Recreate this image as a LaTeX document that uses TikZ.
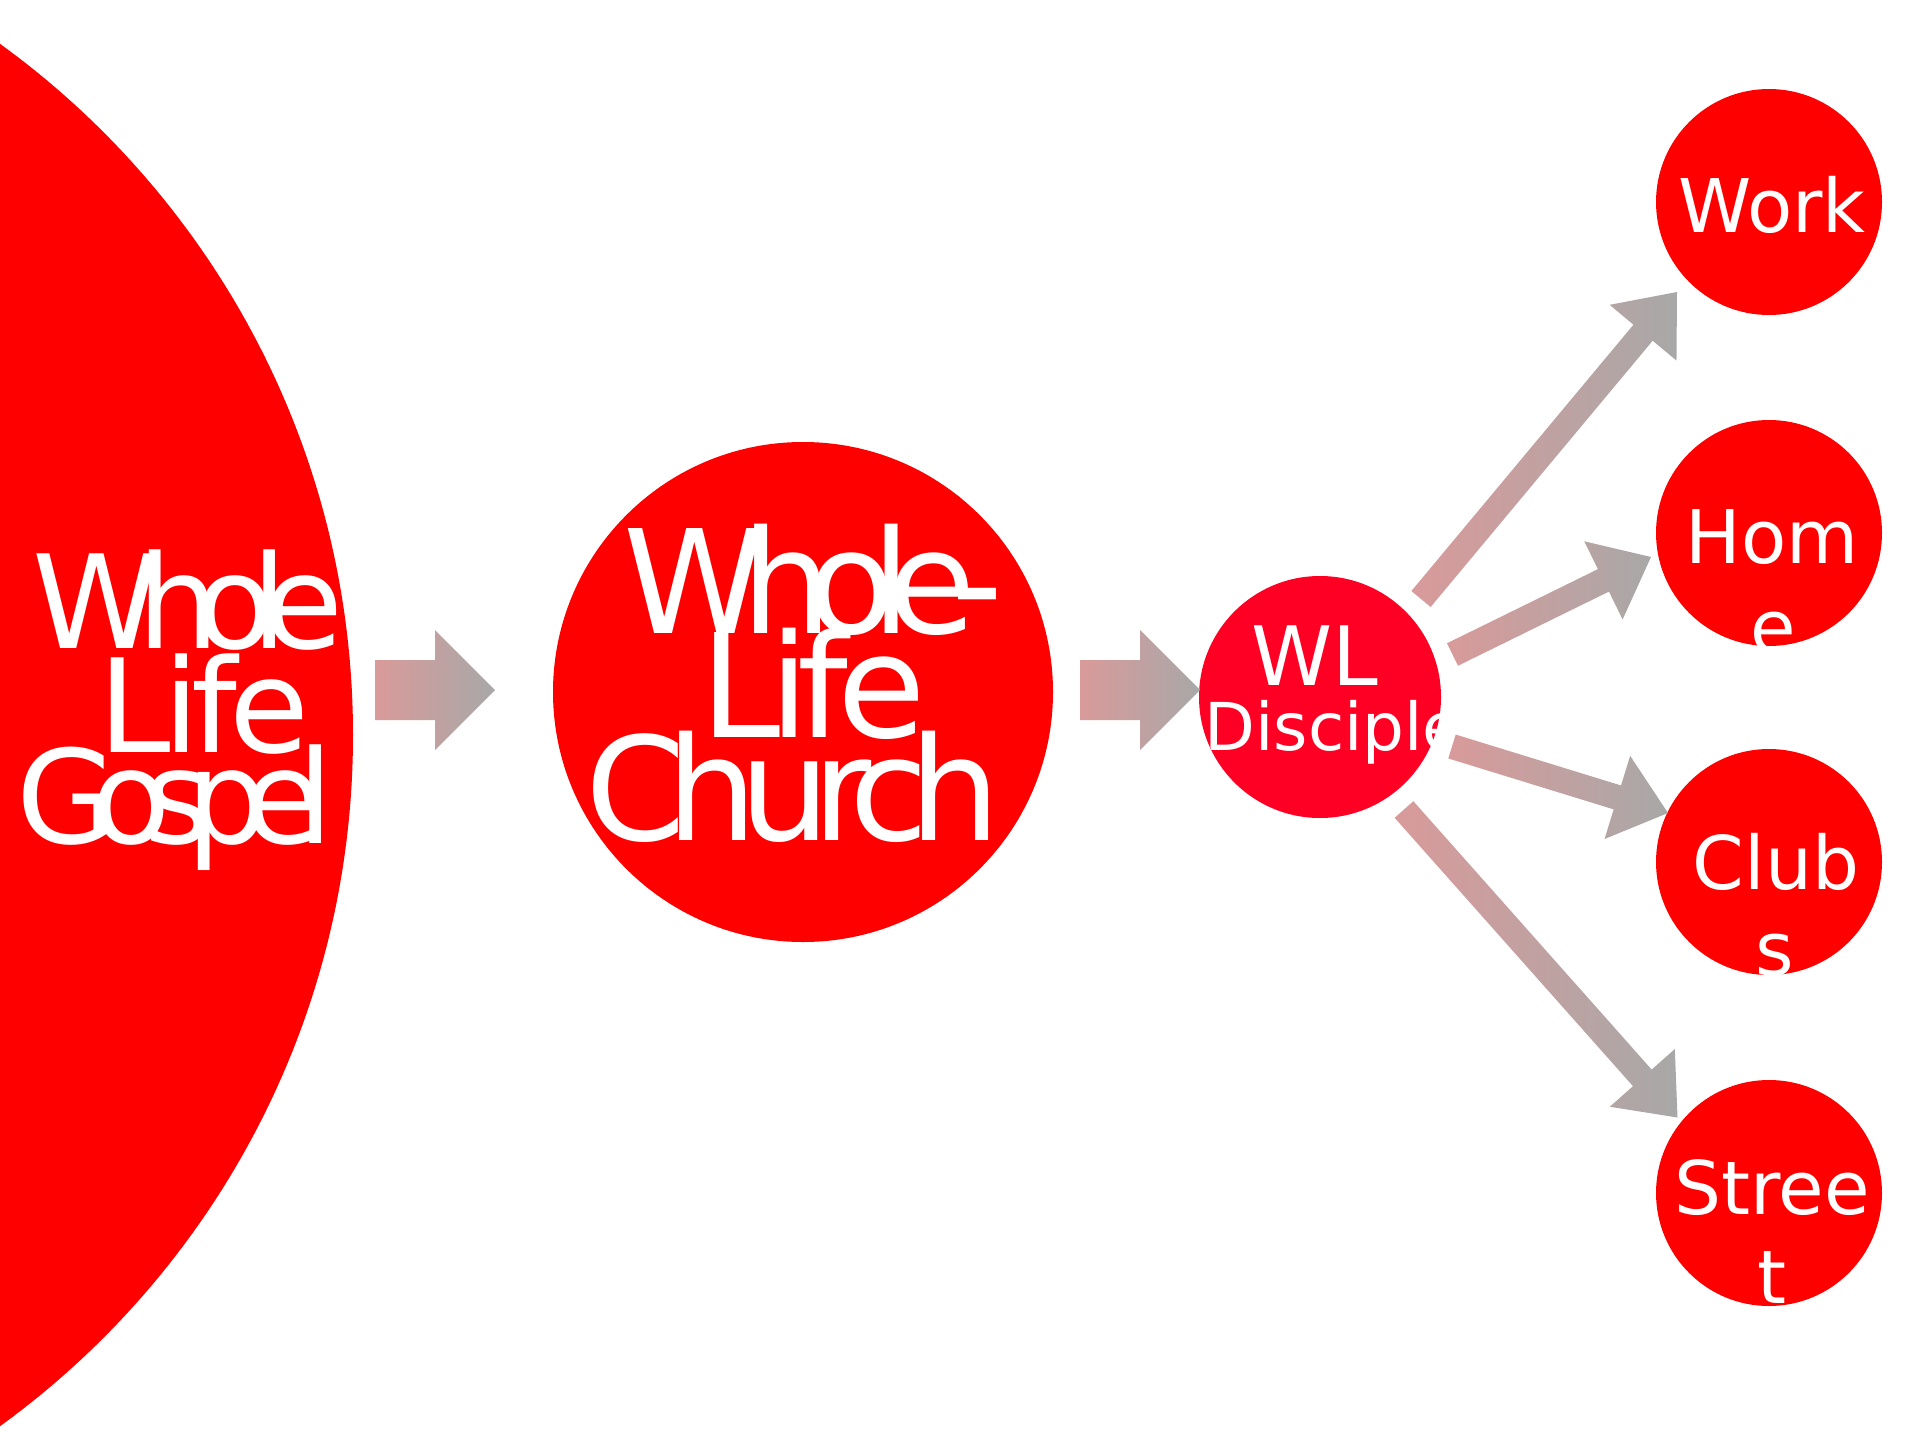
\documentclass[tikz,border=0pt]{standalone}
\usepackage{fontspec}
\setmainfont{DejaVu Sans}
\usetikzlibrary{calc}
\definecolor{bigred}{RGB}{255,0,0}
\definecolor{wlred}{RGB}{255,0,37}
\definecolor{arrowpink}{RGB}{217,154,154}
\definecolor{arrowgray}{RGB}{168,168,168}
\tikzset{
  bubble/.style={circle, fill=bigred, draw=none, inner sep=0pt},
  txt/.style={text=white, inner sep=0pt, anchor=base},
  arrowshade/.style={left color=arrowpink, right color=arrowgray, draw=none},
}
% #1 start, #2 tip, #3 shaft half width, #4 head half width, #5 head length
\newcommand\blockarrow[5]{%
  \coordinate (#1-base) at ($(#2)!#5!(#1)$);
  \shade[arrowshade] ($(#1)!#3!90:(#2)$) -- ($(#1-base)!#3!-90:(#1)$)
    -- ($(#1-base)!#4!-90:(#1)$) -- (#2) -- ($(#1-base)!#4!90:(#1)$)
    -- ($(#1-base)!#3!90:(#1)$) -- ($(#1)!#3!-90:(#2)$) -- cycle;
}
\newcommand\fsz[1]{\fontsize{#1}{#1}\selectfont}
\newcommand\tight[1]{\addfontfeatures{LetterSpace=#1}}
\begin{document}
\begin{tikzpicture}[x=1pt,y=-1pt]
\useasboundingbox (0,0) rectangle (1920,1440);
\clip (0,0) rectangle (1920,1440);
\fill[white] (0,0) rectangle (1920,1440);

% circles
\node[bubble, minimum size=1706pt] (gospel) at (-500,735) {};
\node[bubble, minimum size=500pt] (church) at (803,692) {};
\node[bubble, fill=wlred, minimum size=242pt] (wl) at (1320,697) {};
\node[bubble, minimum size=226pt] (work) at (1769,202) {};
\node[bubble, minimum size=226pt] (home) at (1769,533) {};
\node[bubble, minimum size=226pt] (clubs) at (1769,862) {};
\node[bubble, minimum size=226pt] (street) at (1769,1193) {};

% texts
\node[txt] (g1) at (188,648) {\fsz{130}\tight{-18.5}Whole};
\node[txt] (g2) at (204,752) {\fsz{130}\tight{-6}Life};
\node[txt] (g3) at (175,843) {\fsz{130}\tight{-20}Gospel};

\node[txt] (c1) at (813,633) {\fsz{144}\tight{-17}Whole-};
\node[txt] (c2) at (813,737) {\fsz{144}\tight{-8}Life};
\node[txt] (c3) at (793,840) {\fsz{144}\tight{-13}Church};

\begin{scope}
  \clip (wl.center) circle[radius=121pt];
  \node[txt] (wl1) at (1315,685) {\fsz{82}WL};
  \node[txt] (wl2) at (1334,750) {\fsz{66}Disciple};
\end{scope}

\node[txt] (work1) at (1772,232) {\fsz{74}Work};
\begin{scope}
  \clip (home.center) circle[radius=113pt];
  \node[txt] (home1) at (1772,563) {\fsz{74}Hom};
  \node[txt] (home2) at (1773,653) {\fsz{74}e};
\end{scope}
\begin{scope}
  \clip (clubs.center) circle[radius=113pt];
  \node[txt] (clubs1) at (1776,889) {\fsz{74}Club};
  \node[txt] (clubs2) at (1775,975) {\fsz{74}s};
\end{scope}
\begin{scope}
  \clip (street.center) circle[radius=113pt];
  \node[txt] (street1) at (1772,1214) {\fsz{74}Stree};
  \node[txt] (street2) at (1772,1303) {\fsz{74}t};
\end{scope}

% connectors
\coordinate (a1s) at (375,690);   \coordinate (a1t) at (495,690);
\coordinate (a2s) at (1080,690);  \coordinate (a2t) at (1200,690);
\coordinate (d1s) at (1421,599);  \coordinate (d1t) at (1677,292);
\coordinate (d2s) at (1452.5,654.5); \coordinate (d2t) at (1651,557);
\coordinate (d3s) at (1452,746.5);  \coordinate (d3t) at (1668,813);
\coordinate (d4s) at (1404,809.5);  \coordinate (d4t) at (1677.5,1117.5);

\blockarrow{a1s}{a1t}{30pt}{60pt}{60pt}
\blockarrow{a2s}{a2t}{30pt}{60pt}{60pt}
\blockarrow{d1s}{d1t}{12.5pt}{43.5pt}{53pt}
\blockarrow{d2s}{d2t}{12.5pt}{43.5pt}{53pt}
\blockarrow{d3s}{d3t}{12.5pt}{43.5pt}{53pt}
\blockarrow{d4s}{d4t}{12.5pt}{43.5pt}{53pt}
\end{tikzpicture}
\end{document}
